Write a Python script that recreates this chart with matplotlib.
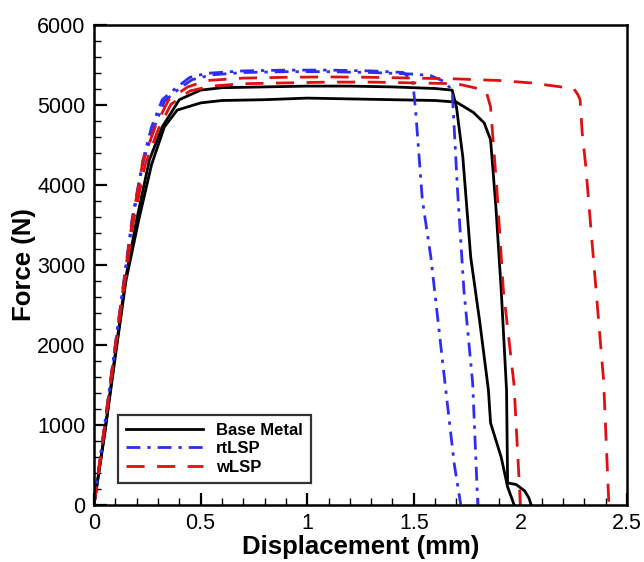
import matplotlib

matplotlib.use("Agg")
import matplotlib.pyplot as plt
from matplotlib.ticker import MultipleLocator, FuncFormatter

plt.rcParams["font.family"] = ["Liberation Sans", "DejaVu Sans"]

# --- values (displacement mm, force N) --------------------------------------
BASE_A_X = [0, 0.05, 0.10, 0.15, 0.20, 0.26, 0.32, 0.40, 0.50, 0.60, 0.80, 1.00,
            1.20, 1.40, 1.60, 1.68, 1.70, 1.73, 1.767, 1.81, 1.85, 1.86, 1.91,
            1.94, 1.97]
BASE_A_F = [0, 900, 1900, 2850, 3560, 4310, 4720, 5060, 5180, 5210, 5220, 5230,
            5230, 5220, 5200, 5180, 4970, 4340, 3090, 2270, 1430, 1020, 590,
            220, 0]
BASE_B_X = [0, 0.05, 0.10, 0.15, 0.21, 0.27, 0.33, 0.39, 0.50, 0.60, 0.80, 1.00,
            1.20, 1.40, 1.60, 1.70, 1.78, 1.83, 1.86, 1.885, 1.91, 1.935, 1.94,
            1.98, 2.02, 2.04, 2.05]
BASE_B_F = [0, 880, 1850, 2800, 3560, 4250, 4720, 4930, 5020, 5050, 5060, 5080,
            5070, 5060, 5050, 5030, 4900, 4770, 4560, 3720, 2680, 1430, 270,
            250, 170, 80, 0]

RT_A_X = [0, 0.05, 0.10, 0.178, 0.23, 0.27, 0.32, 0.39, 0.45, 0.53, 0.70, 0.90,
          1.10, 1.30, 1.45, 1.495, 1.51, 1.54, 1.58, 1.65, 1.69, 1.72]
RT_A_F = [0, 1000, 2000, 3560, 4310, 4720, 5060, 5220, 5340, 5390, 5420, 5430,
          5430, 5420, 5400, 5300, 4870, 3810, 3090, 1430, 500, 0]
RT_B_X = [0, 0.05, 0.10, 0.18, 0.23, 0.28, 0.33, 0.40, 0.46, 0.55, 0.70, 0.90,
          1.10, 1.30, 1.50, 1.58, 1.64, 1.68, 1.705, 1.735, 1.776, 1.80]
RT_B_F = [0, 980, 1980, 3540, 4280, 4700, 5040, 5200, 5310, 5370, 5400, 5410,
          5410, 5400, 5380, 5360, 5290, 5180, 3930, 2680, 1520, 0]

W_A_X = [0, 0.05, 0.10, 0.18, 0.23, 0.287, 0.35, 0.44, 0.53, 0.70, 0.90, 1.10,
         1.30, 1.50, 1.70, 1.90, 2.05, 2.19, 2.25, 2.27, 2.28, 2.29, 2.307,
         2.317, 2.39, 2.415]
W_A_F = [0, 990, 1990, 3560, 4300, 4720, 5060, 5220, 5300, 5330, 5340, 5345,
         5340, 5330, 5320, 5300, 5270, 5220, 5200, 5120, 5060, 4640, 4220,
         3890, 1560, 0]
W_B_X = [0, 0.05, 0.10, 0.185, 0.24, 0.30, 0.36, 0.45, 0.55, 0.70, 0.90, 1.10,
         1.30, 1.50, 1.70, 1.80, 1.84, 1.86, 1.89, 1.92, 1.97, 2.00]
W_B_F = [0, 970, 1960, 3540, 4250, 4680, 5000, 5170, 5230, 5260, 5270, 5280,
         5280, 5270, 5260, 5200, 5160, 4970, 3930, 2680, 1500, 0]

SERIES = (
    # label, curves, color, dashes
    ("Base Metal", ((BASE_A_X, BASE_A_F), (BASE_B_X, BASE_B_F)), "black", None),
    ("rtLSP", ((RT_A_X, RT_A_F), (RT_B_X, RT_B_F)), "#2e2ef2", (5, 2.5, 1.2, 2.5)),
    ("wLSP", ((W_A_X, W_A_F), (W_B_X, W_B_F)), "#dd1111", (6.5, 4.5)),
)

fig = plt.figure(figsize=(6.44, 5.62), dpi=100)
ax = fig.add_axes([0.146, 0.1023, 0.8276, 0.8541])

for label, curves, color, dashes in SERIES:
    for i, (xs, fs) in enumerate(curves):
        line, = ax.plot(xs, fs, color=color, linewidth=2.0,
                        label=label if i == 0 else None)
        if dashes is not None:
            line.set_dashes(dashes)

ax.set_xlim(0, 2.5)
ax.set_ylim(0, 6000)
ax.xaxis.set_major_locator(MultipleLocator(0.5))
ax.xaxis.set_minor_locator(MultipleLocator(0.1))
ax.yaxis.set_major_locator(MultipleLocator(1000))
ax.yaxis.set_minor_locator(MultipleLocator(200))
ax.xaxis.set_major_formatter(FuncFormatter(lambda v, _: f"{v:g}"))
ax.tick_params(which="major", direction="in", length=9, width=1.6,
               labelsize=15.5, pad=6)
ax.tick_params(which="minor", direction="in", length=5, width=1.0)
for side in ("left", "bottom", "right", "top"):
    ax.spines[side].set_linewidth(1.8)

ax.set_xlabel("Displacement (mm)", fontsize=18.5, fontweight="bold", labelpad=1)
ax.set_ylabel("Force (N)", fontsize=18.5, fontweight="bold", labelpad=1)

leg = ax.legend(loc="lower left", bbox_to_anchor=(0.045, 0.045),
                prop={"weight": "bold", "size": 12}, frameon=True,
                fancybox=False, handlelength=4.6, borderpad=0.5,
                labelspacing=0.2, handletextpad=0.8, borderaxespad=0)
leg.get_frame().set_edgecolor("black")
leg.get_frame().set_linewidth(1.6)

fig.savefig("out.png", dpi=100, facecolor="white")
